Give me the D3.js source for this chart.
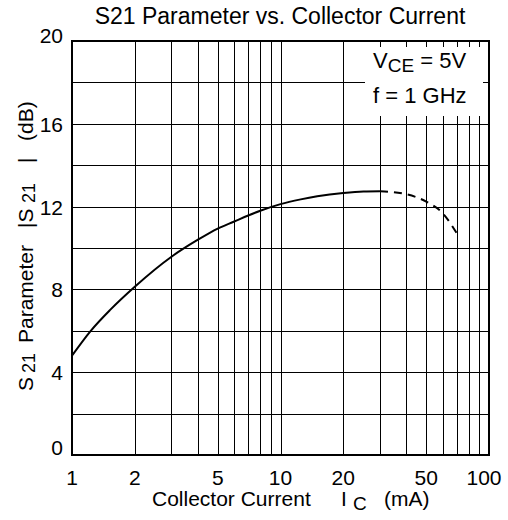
<!DOCTYPE html>
<html>
<head>
<meta charset="utf-8">
<script src="https://cdn.jsdelivr.net/npm/d3@7"></script>
<style>
  body { margin: 0; background: #fff; }
  text { font-family: "Liberation Sans", Arial, sans-serif; fill: #000; white-space: pre; }
</style>
</head>
<body>
<div id="chart"></div>
<script>
// data
var currentSolid = [1, 1.23, 1.52, 2, 3, 4, 5, 6, 7, 8, 10, 12.5, 15, 20, 25, 30];
var s21Solid = [4.8, 6.0, 7.0, 8.13, 9.58, 10.39, 10.94, 11.28, 11.57, 11.8, 12.12, 12.35, 12.5, 12.66, 12.73, 12.74];
var currentDash = [30, 40, 50, 60, 70];
var s21Dash = [12.74, 12.6, 12.24, 11.68, 10.72];

var xTickValues = [1, 2, 5, 10, 20, 50, 100];
var xGridValues = [1, 2, 3, 4, 5, 6, 7, 8, 9, 10, 20, 30, 40, 50, 60, 70, 80, 90, 100];
var yTickValues = [0, 4, 8, 12, 16, 20];
var yGridValues = [0, 2, 4, 6, 8, 10, 12, 14, 16, 18, 20];

// set the dimensions and margins of the graph
var margin = {top: 41, right: 19, bottom: 65, left: 72},
    width = 508 - margin.left - margin.right,
    height = 520 - margin.top - margin.bottom;

var svgRoot = d3.select("#chart")
  .append("svg")
    .attr("width", 508)
    .attr("height", 520);

var svg = svgRoot.append("g")
    .attr("transform", "translate(" + margin.left + "," + margin.top + ")");

var x = d3.scaleLog().domain([1, 100]).range([0, width]);
var y = d3.scaleLinear().domain([0, 20]).range([height, 0]);

// grid lines
svg.selectAll("line.vgrid")
  .data(xGridValues)
  .enter()
  .append("line")
    .attr("x1", function(d) { return Math.round(x(d)) + 0.5; })
    .attr("x2", function(d) { return Math.round(x(d)) + 0.5; })
    .attr("y1", 0)
    .attr("y2", height)
    .attr("stroke", "#000")
    .attr("stroke-width", 1);

svg.selectAll("line.hgrid")
  .data(yGridValues)
  .enter()
  .append("line")
    .attr("x1", 0)
    .attr("x2", width)
    .attr("y1", function(d) { return Math.round(y(d)) + 0.5; })
    .attr("y2", function(d) { return Math.round(y(d)) + 0.5; })
    .attr("stroke", "#000")
    .attr("stroke-width", 1);

// legend box covers the grid
svg.append("rect")
    .attr("x", 365 - margin.left)
    .attr("y", 47 - margin.top)
    .attr("width", 118)
    .attr("height", 69)
    .attr("fill", "#fff");

var leg = svg.append("g").attr("transform", "translate(" + (365 - margin.left) + "," + (47 - margin.top) + ")");
var l1 = leg.append("text").attr("x", 8).attr("y", 21).style("font-size", "22px");
l1.append("tspan").text("V");
l1.append("tspan").attr("dy", 4).style("font-size", "19px").text("CE");
l1.append("tspan").attr("dy", -4).text(" = 5V");
leg.append("text").attr("x", 8).attr("y", 56).style("font-size", "22px").text("f = 1 GHz");

// plot frame
svg.append("rect")
    .attr("x", 0)
    .attr("y", 0)
    .attr("width", width)
    .attr("height", height)
    .attr("fill", "none")
    .attr("stroke", "#000")
    .attr("stroke-width", 2);

// curve
var line = d3.line()
    .x(function(d) { return x(d[0]); })
    .y(function(d) { return y(d[1]); })
    .curve(d3.curveMonotoneX);

svg.append("path")
    .datum(d3.zip(currentSolid, s21Solid))
    .attr("d", line)
    .attr("fill", "none")
    .attr("stroke", "#000")
    .attr("stroke-width", 2);

svg.append("path")
    .datum(d3.zip(currentDash, s21Dash))
    .attr("d", line)
    .attr("fill", "none")
    .attr("stroke", "#000")
    .attr("stroke-width", 2)
    .style("stroke-dasharray", "8, 6");

// y tick labels
svg.selectAll("text.ylab")
  .data(yTickValues)
  .enter()
  .append("text")
    .attr("x", -9)
    .attr("y", function(d) {
        if (d == 20) return y(d) + 2;
        if (d == 0) return y(d);
        return y(d) + 8;
    })
    .attr("text-anchor", "end")
    .style("font-size", "21px")
    .text(function(d) { return d; });

// x tick labels
svg.selectAll("text.xlab")
  .data(xTickValues)
  .enter()
  .append("text")
    .attr("x", function(d) { return d == 100 ? x(d) - 5 : x(d); })
    .attr("y", height + 30)
    .attr("text-anchor", "middle")
    .style("font-size", "21px")
    .text(function(d) { return d; });

// title
svgRoot.append("text")
    .attr("x", 280)
    .attr("y", 24)
    .attr("text-anchor", "middle")
    .style("font-size", "23px")
    .text("S21 Parameter vs. Collector Current");

// x axis title
var xt = svgRoot.append("text")
    .attr("y", 506)
    .style("font-size", "21px");
xt.append("tspan").attr("x", 152).text("Collector Current");
xt.append("tspan").attr("x", 341).text("I");
xt.append("tspan").attr("x", 353).attr("dy", 4).style("font-size", "19px").text("C");
xt.append("tspan").attr("x", 384).attr("dy", -4).text("(mA)");

// y axis title
var yt = svgRoot.append("text")
    .attr("transform", "translate(33,0) rotate(-90)")
    .style("font-size", "21px");
yt.append("tspan").attr("x", -391).text("S");
yt.append("tspan").attr("x", -373).attr("dy", 2).style("font-size", "18px").text("21");
yt.append("tspan").attr("x", -343).attr("dy", -2).text("Parameter");
yt.append("tspan").attr("x", -228).text("|S");
yt.append("tspan").attr("x", -203).attr("dy", 2).style("font-size", "18px").text("21");
yt.append("tspan").attr("x", -163).attr("dy", -2).text("|");
yt.append("tspan").attr("x", -141).text("(dB)");
</script>
</body>
</html>
